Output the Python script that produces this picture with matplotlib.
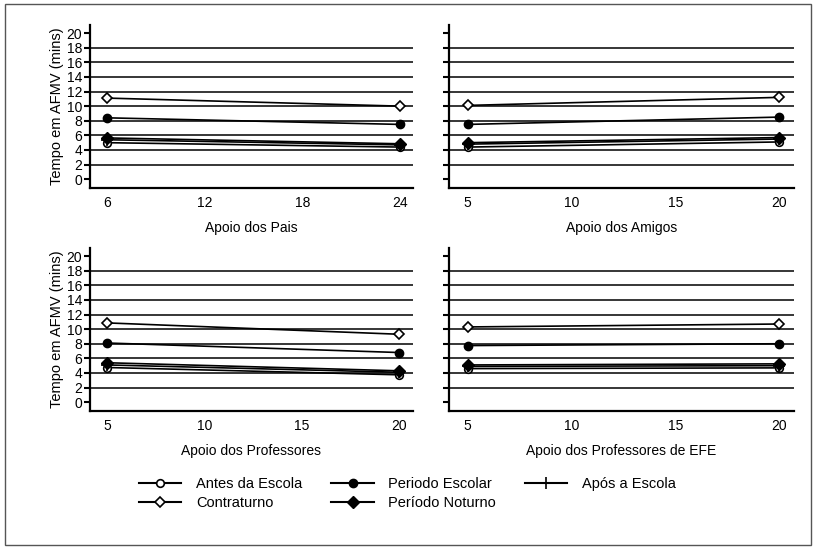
import matplotlib
matplotlib.use("Agg")
import matplotlib.pyplot as plt
from matplotlib.lines import Line2D
from matplotlib.patches import Rectangle

plt.rcParams['font.family'] = ['Liberation Sans', 'DejaVu Sans']

# Data
series_names = ["Antes da Escola", "Contraturno", "Periodo Escolar", "Período Noturno", "Após a Escola"]
panel_xlabels = ["Apoio dos Pais", "Apoio dos Amigos", "Apoio dos Professores", "Apoio dos Professores de EFE"]
panel_x = [[6, 24], [5, 20], [5, 20], [5, 20]]
panel_xticks = [[6, 12, 18, 24], [5, 10, 15, 20], [5, 10, 15, 20], [5, 10, 15, 20]]

antes = [[5.0, 4.4], [4.4, 5.1], [4.75, 3.75], [4.6, 4.7]]
contraturno = [[11.1, 10.0], [10.1, 11.2], [10.85, 9.3], [10.3, 10.7]]
escolar = [[8.4, 7.5], [7.5, 8.5], [8.1, 6.8], [7.75, 8.0]]
noturno = [[5.65, 4.85], [5.0, 5.7], [5.4, 4.3], [5.1, 5.25]]
apos = [[5.4, 4.7], [4.8, 5.5], [5.1, 4.1], [4.9, 5.0]]

yticks = list(range(0, 21, 2))
gridlines = list(range(2, 19, 2))

styles = {
    "Antes da Escola": dict(marker='o', mfc='white', mec='black', ms=5.5, mew=1.2),
    "Contraturno": dict(marker='D', mfc='white', mec='black', ms=5.5, mew=1.2),
    "Periodo Escolar": dict(marker='o', mfc='black', mec='black', ms=6),
    "Período Noturno": dict(marker='D', mfc='black', mec='black', ms=6),
    "Após a Escola": dict(marker='+', mfc='black', mec='black', ms=8, mew=1.2),
}
data_by_series = {
    "Antes da Escola": antes,
    "Contraturno": contraturno,
    "Periodo Escolar": escolar,
    "Período Noturno": noturno,
    "Após a Escola": apos,
}

fig = plt.figure(figsize=(8.15, 5.47), dpi=100)

W, H = 815, 547
def box(l, r, t, b):
    return [l / W, 1 - b / H, (r - l) / W, (b - t) / H]

positions = [box(90, 413, 25, 188), box(449, 794, 25, 188),
             box(90, 413, 248, 411), box(449, 794, 248, 411)]
xlims = [(4.95, 24.8), (4.1, 20.72), (4.1, 20.72), (4.1, 20.72)]

for i in range(4):
    ax = fig.add_axes(positions[i])
    for g in gridlines:
        ax.axhline(g, color='black', lw=1.1, zorder=1)
    for name in ["Antes da Escola", "Após a Escola", "Período Noturno", "Periodo Escolar", "Contraturno"]:
        st = styles[name]
        ax.plot(panel_x[i], data_by_series[name][i], color='black', lw=1.2, zorder=3,
                **st)
    ax.set_xlim(*xlims[i])
    ax.set_ylim(-1.2, 21.1)
    ax.set_yticks(yticks)
    ax.set_xticks(panel_xticks[i])
    for s in ['top', 'right']:
        ax.spines[s].set_visible(False)
    for s in ['left', 'bottom']:
        ax.spines[s].set_linewidth(1.6)
    ax.tick_params(axis='y', length=4, width=1.5, labelsize=10, pad=1.5)
    ax.tick_params(axis='x', length=0, labelsize=10, pad=6)
    if i % 2 == 1:
        ax.set_yticklabels([])
    else:
        ax.set_ylabel("Tempo em AFMV (mins)", fontsize=10.5, labelpad=2)
    ax.set_xlabel(panel_xlabels[i], fontsize=10, labelpad=8)

handles = [Line2D([0], [0], color='black', lw=1.5, **styles[n]) for n in series_names]
fig.legend(handles, series_names, loc='center', bbox_to_anchor=(0.5, 0.098), ncol=3,
           frameon=False, fontsize=10.5, handlelength=2.9, columnspacing=2.0,
           labelspacing=0.38, handletextpad=1.0)

fig.patches.append(Rectangle((5 / W, 1 - 545 / H), 806 / W, 541 / H, transform=fig.transFigure,
                             fill=False, edgecolor='#555555', lw=1.0))

fig.savefig("out.png", dpi=100)
